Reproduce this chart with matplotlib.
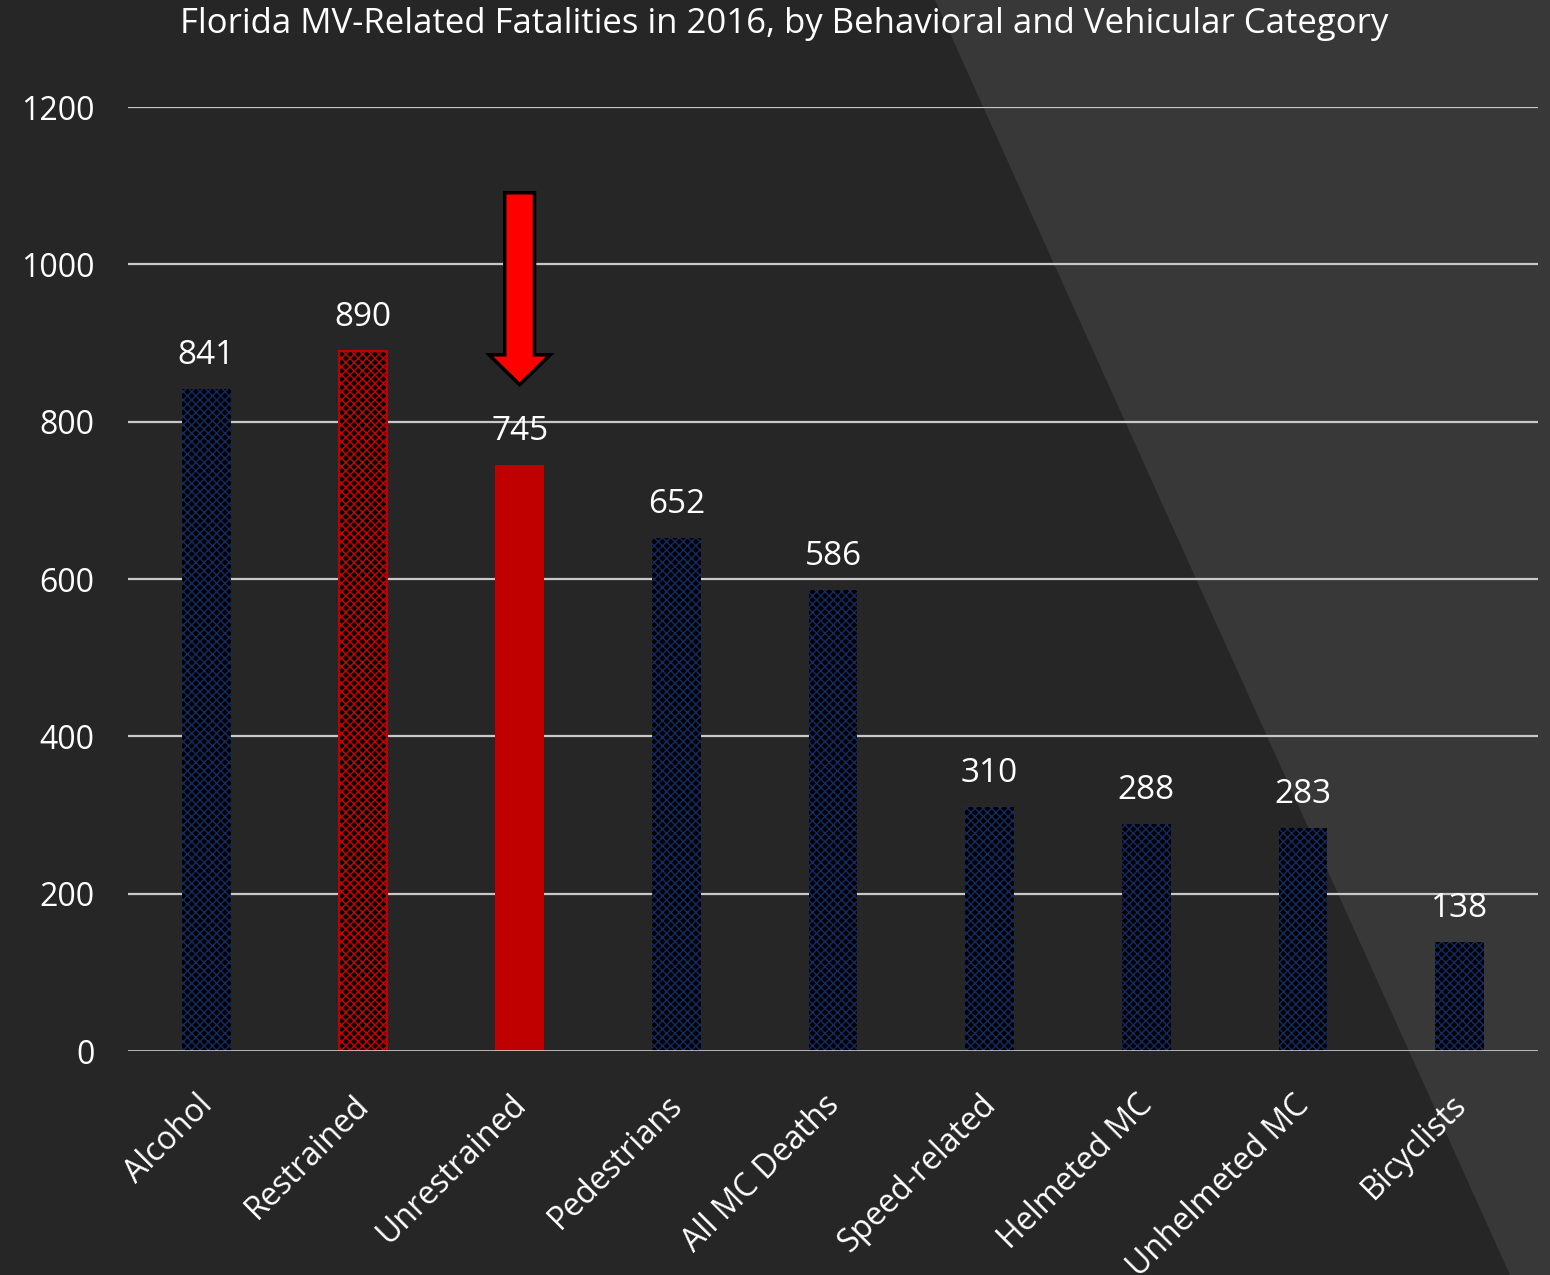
import matplotlib.pyplot as plt
from matplotlib.patches import Polygon, FancyArrow
from matplotlib.transforms import ScaledTranslation

categories = ['Alcohol', 'Restrained', 'Unrestrained', 'Pedestrians', 'All MC Deaths',
              'Speed-related', 'Helmeted MC', 'Unhelmeted MC', 'Bicyclists']
fatalities = [841, 890, 745, 652, 586, 310, 288, 283, 138]
yticks = [0, 200, 400, 600, 800, 1000, 1200]

plt.rcParams['font.family'] = ['Open Sans', 'DejaVu Sans']
plt.rcParams['hatch.linewidth'] = 1.0

fig = plt.figure(figsize=(15.5, 12.75), dpi=100, facecolor='#262626')

# lighter diagonal panel on the right side of the slide
fig.patches.append(Polygon([(935 / 1550, 1), (1, 1), (1, 0), (1510 / 1550, 0)],
                           closed=True, transform=fig.transFigure,
                           facecolor='#383838', edgecolor='none', zorder=-1))

ax = fig.add_axes([128 / 1550, 1 - 1051 / 1275, 1410 / 1550, 944 / 1275])
ax.set_facecolor('none')
ax.set_xlim(-0.5, len(categories) - 0.5)
ax.set_ylim(0, 1200)

for y in yticks[1:]:
    ax.axhline(y, color='#c8c8c8', lw=1.6, zorder=1)
ax.axhline(0, color='#e0e0e0', lw=1.8, zorder=3)

x = range(len(categories))
for i, v in zip(x, fatalities):
    if categories[i] == 'Unrestrained':
        ax.bar(i, v, width=0.31, color='#c00000', zorder=2)
    elif categories[i] == 'Restrained':
        ax.bar(i, v, width=0.31, facecolor='black', edgecolor='#d00000',
               hatch='xxxx', lw=0, zorder=2)
        ax.bar(i, v, width=0.31, facecolor='none', edgecolor='#c00000', lw=1.5, zorder=2)
    else:
        ax.bar(i, v, width=0.31, facecolor='black', edgecolor='#142c66',
               hatch='xxxx', lw=0, zorder=2)
    ax.text(i, v + 22, str(v), ha='center', va='bottom', color='white', fontsize=24)

# highlight arrow over the unrestrained bar
idx = categories.index('Unrestrained')
ax.add_patch(FancyArrow(idx, 1091, 0, 847 - 1091, width=0.19,
                        head_width=0.39, head_length=38, length_includes_head=True,
                        facecolor='#ff0000', edgecolor='black', lw=2.5, zorder=5))

ax.set_yticks(yticks)
ax.set_yticklabels([str(t) for t in yticks], color='white', fontsize=23)
ax.set_xticks(list(x))
ax.set_xticklabels(categories, rotation=45, ha='right', rotation_mode='anchor',
                   color='white', fontsize=23)
ax.tick_params(length=0)
ax.tick_params(axis='x', pad=27)
ax.tick_params(axis='y', pad=24)
shift = ScaledTranslation(-10 / 100, 0, fig.dpi_scale_trans)
for lab in ax.get_xticklabels():
    lab.set_transform(lab.get_transform() + shift)
for s in ax.spines.values():
    s.set_visible(False)

fig.text(0.5 + 9 / 1550, 1 - 24 / 1275,
         'Florida MV-Related Fatalities in 2016, by Behavioral and Vehicular Category',
         ha='center', va='center', color='white', fontsize=25)

fig.savefig('out.png', dpi=100, facecolor=fig.get_facecolor())
